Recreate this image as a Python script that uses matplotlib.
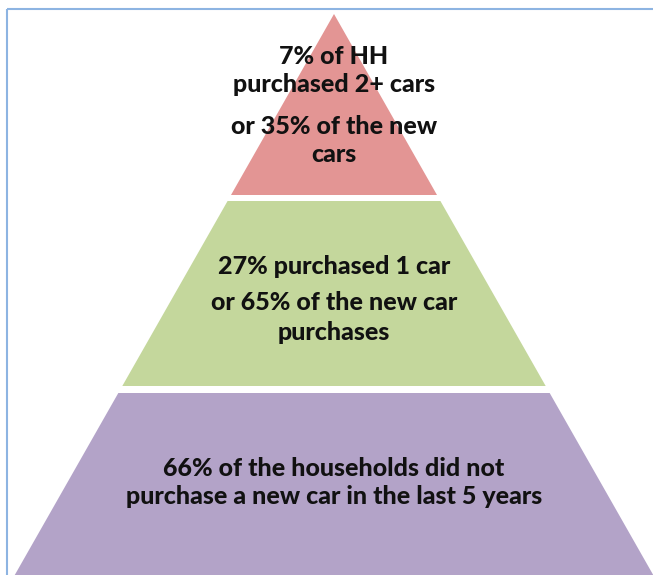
import matplotlib
matplotlib.use("Agg")
import matplotlib.pyplot as plt
from matplotlib.patches import Polygon

# Data (top to bottom)
tiers = ["2+ cars", "1 car", "No new car"]
tier_texts = [
    ["7% of HH", "purchased 2+ cars", "or 35% of the new", "cars"],
    ["27% purchased 1 car", "or 65% of the new car", "purchases"],
    ["66% of the households did not", "purchase a new car in the last 5 years"],
]
tier_colors = ["#E39594", "#C4D79C", "#B3A3C8"]

W, H = 653, 575
fig = plt.figure(figsize=(W / 100, H / 100), dpi=100)
ax = fig.add_axes([0, 0, 1, 1])
ax.set_xlim(0, W)
ax.set_ylim(H, 0)
ax.axis("off")

# frame (light blue border on top/left)
ax.plot([7, 7], [H, 9], color="#8DB4E2", lw=1.5, solid_capstyle="butt")
ax.plot([7, W], [9, 9], color="#8DB4E2", lw=1.5, solid_capstyle="butt")

# pyramid geometry
apex_x, apex_y = 334, 14
slope = 103 / 181.0
bands = [(apex_y, 195), (201, 386), (393, 578)]

def half(y):
    return (y - apex_y) * slope

for (y0, y1), col in zip(bands, tier_colors):
    pts = [(apex_x - half(y0), y0), (apex_x + half(y0), y0),
           (apex_x + half(y1), y1), (apex_x - half(y1), y1)]
    ax.add_patch(Polygon(pts, closed=True, facecolor=col, edgecolor="none"))

line_y = [
    [56, 85, 127, 155],
    [267, 303, 332],
    [469, 497],
]
font = ["Lato", "DejaVu Sans"]
for lines, ys in zip(tier_texts, line_y):
    for t, y in zip(lines, ys):
        ax.text(apex_x, y, t, ha="center", va="center", fontsize=18,
                fontweight="black", family=font, color="#111111")

fig.savefig("out.png", dpi=100)
